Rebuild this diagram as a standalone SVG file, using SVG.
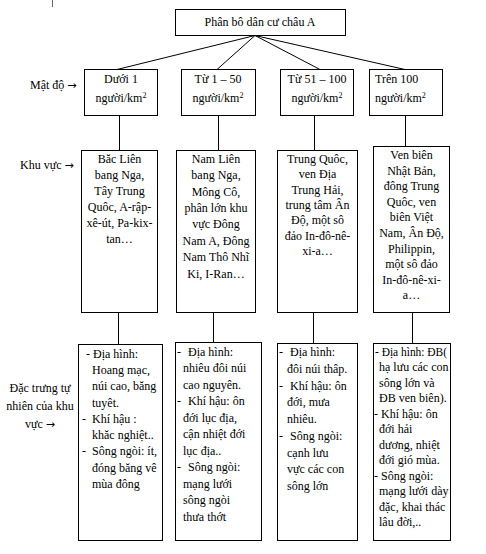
<svg xmlns="http://www.w3.org/2000/svg" width="486" height="554" viewBox="0 0 486 554">
<style>
text{font-family:"Liberation Serif","Times New Roman",serif;font-size:12px;fill:#000}
.c{text-anchor:middle}
.box{fill:#fff;stroke:#000;stroke-width:1}
.ln{stroke:#000;stroke-width:1;fill:none}
.sup{font-size:8px}
.ar{font-family:"DejaVu Sans",sans-serif;font-size:11px}
</style>
<rect width="486" height="554" fill="#fff"/>
<line x1="52.5" y1="0" x2="52.5" y2="7" stroke="#666" stroke-width="1"/>
<g id="connectors">
<line class="ln" x1="255" y1="35.5" x2="117" y2="69.5"/>
<line class="ln" x1="255" y1="35.5" x2="217" y2="69.5"/>
<line class="ln" x1="255" y1="35.5" x2="320" y2="69.5"/>
<line class="ln" x1="255" y1="35.5" x2="405" y2="69.5"/>
<line class="ln" x1="119.5" y1="115.5" x2="119.5" y2="150.5"/>
<line class="ln" x1="218.5" y1="115.5" x2="218.5" y2="150.5"/>
<line class="ln" x1="314.5" y1="115.5" x2="314.5" y2="150.5"/>
<line class="ln" x1="405.5" y1="115.5" x2="405.5" y2="146.5"/>
<line class="ln" x1="118.5" y1="312.5" x2="118.5" y2="344.5"/>
<line class="ln" x1="213.5" y1="312.5" x2="213.5" y2="342.5"/>
<line class="ln" x1="313.5" y1="312.5" x2="313.5" y2="343.5"/>
<line class="ln" x1="412.5" y1="312.5" x2="412.5" y2="343.5"/>
</g>
<g id="labels">
<text x="30" y="89">Mật độ <tspan class="ar">→</tspan></text>
<text x="20" y="169">Khu vực <tspan class="ar">→</tspan></text>
<text class="c" x="40" y="392">Đặc trưng tự</text>
<text class="c" x="40" y="410">nhiên của khu</text>
<text class="c" x="40" y="428">vực <tspan class="ar">→</tspan></text>
</g>
<g id="title">
<rect class="box" x="175.5" y="9.5" width="170" height="26"/>
<text class="c" x="260" y="26">Phân bô dân cư châu A</text>
</g>
<g id="d1">
<rect class="box" x="84.5" y="69.5" width="73" height="46"/>
<text class="c" x="121" y="83">Dưới 1</text>
<text class="c" x="121" y="102">người/km<tspan class="sup" dy="-4">2</tspan></text>
</g>
<g id="d2">
<rect class="box" x="181.5" y="69.5" width="74" height="46"/>
<text class="c" x="218" y="83">Từ 1 – 50</text>
<text class="c" x="218" y="102">người/km<tspan class="sup" dy="-4">2</tspan></text>
</g>
<g id="d3">
<rect class="box" x="280.5" y="69.5" width="73" height="46"/>
<text class="c" x="317" y="83">Từ 51 – 100</text>
<text class="c" x="317" y="102">người/km<tspan class="sup" dy="-4">2</tspan></text>
</g>
<g id="d4">
<rect class="box" x="369.5" y="69.5" width="73" height="46"/>
<text x="375" y="83">Trên 100</text>
<text x="375" y="102">người/km<tspan class="sup" dy="-4">2</tspan></text>
</g>
<g id="k1">
<rect class="box" x="81.5" y="150.5" width="76" height="162"/>
<text class="c" x="119.5" y="163">Băc Liên</text>
<text class="c" x="119.5" y="179">bang Nga,</text>
<text class="c" x="119.5" y="195">Tây Trung</text>
<text class="c" x="119.5" y="211">Quôc, A-rập-</text>
<text class="c" x="119.5" y="227">xê-út, Pa-kix-</text>
<text class="c" x="119.5" y="243">tan…</text>
</g>
<g id="k2">
<rect class="box" x="176.5" y="150.5" width="79" height="162"/>
<text class="c" x="216" y="163">Nam Liên</text>
<text class="c" x="216" y="179">bang Nga,</text>
<text class="c" x="216" y="196">Mông Cô,</text>
<text class="c" x="216" y="212">phân lớn khu</text>
<text class="c" x="216" y="228">vực Đông</text>
<text class="c" x="216" y="245">Nam A, Đông</text>
<text class="c" x="216" y="261">Nam Thô Nhĩ</text>
<text class="c" x="216" y="278">Ki, I-Ran…</text>
</g>
<g id="k3">
<rect class="box" x="277.5" y="150.5" width="80" height="162"/>
<text class="c" x="317.5" y="163">Trung Quôc,</text>
<text class="c" x="317.5" y="178">ven Địa</text>
<text class="c" x="317.5" y="194">Trung Hải,</text>
<text class="c" x="317.5" y="209">trung tâm Ân</text>
<text class="c" x="317.5" y="224">Độ, một sô</text>
<text class="c" x="317.5" y="240">đảo In-đô-nê-</text>
<text class="c" x="317.5" y="255">xi-a…</text>
</g>
<g id="k4">
<rect class="box" x="373.5" y="146.5" width="76" height="166"/>
<text class="c" x="411.5" y="159">Ven biên</text>
<text class="c" x="411.5" y="175">Nhật Bản,</text>
<text class="c" x="411.5" y="190">đông Trung</text>
<text class="c" x="411.5" y="206">Quôc, ven</text>
<text class="c" x="411.5" y="221">biên Việt</text>
<text class="c" x="411.5" y="237">Nam, Ân Độ,</text>
<text class="c" x="411.5" y="253">Philippin,</text>
<text class="c" x="411.5" y="268">một sô đảo</text>
<text class="c" x="411.5" y="284">In-đô-nê-xi-</text>
<text class="c" x="411.5" y="299">a…</text>
</g>
<g id="t1">
<rect class="box" x="78.5" y="344.5" width="84" height="196"/>
<text x="86" y="358">- Địa hình:</text>
<text x="92" y="374">Hoang mạc,</text>
<text x="92" y="390">núi cao, băng</text>
<text x="92" y="407">tuyêt.</text>
<text x="82" y="423">-</text><text x="92" y="423">Khí hậu :</text>
<text x="92" y="439">khăc nghiệt..</text>
<text x="82" y="455">-</text><text x="92" y="455">Sông ngòi: ít,</text>
<text x="92" y="472">đóng băng vê</text>
<text x="92" y="488">mùa đông</text>
</g>
<g id="t2">
<rect class="box" x="175.5" y="342.5" width="86" height="198"/>
<text x="177" y="356">-</text><text x="188" y="356">Địa hình:</text>
<text x="183" y="372">nhiêu đôi núi</text>
<text x="183" y="389">cao nguyên.</text>
<text x="177" y="405">-</text><text x="188" y="405">Khí hậu: ôn</text>
<text x="183" y="422">đới lục địa,</text>
<text x="183" y="438">cận nhiệt đới</text>
<text x="183" y="455">lục địa..</text>
<text x="177" y="471">-</text><text x="188" y="471">Sông ngòi:</text>
<text x="183" y="488">mạng lưới</text>
<text x="183" y="504">sông ngòi</text>
<text x="183" y="521">thưa thớt</text>
</g>
<g id="t3">
<rect class="box" x="277.5" y="343.5" width="80" height="197"/>
<text x="279" y="356">-</text><text x="290" y="356">Địa hình:</text>
<text x="287" y="373">đôi núi thâp.</text>
<text x="279" y="390">-</text><text x="290" y="390">Khí hậu: ôn</text>
<text x="287" y="406">đới, mưa</text>
<text x="287" y="423">nhiêu.</text>
<text x="279" y="440">-</text><text x="290" y="440">Sông ngòi:</text>
<text x="287" y="457">cạnh lưu</text>
<text x="287" y="473">vực các con</text>
<text x="287" y="490">sông lớn</text>
</g>
<g id="t4">
<rect class="box" x="373.5" y="343.5" width="77" height="197"/>
<text x="375" y="356" textLength="72" lengthAdjust="spacingAndGlyphs">- Địa hình: ĐB(</text>
<text x="379" y="371">hạ lưu các con</text>
<text x="379" y="387">sông lớn và</text>
<text x="379" y="402">ĐB ven biên).</text>
<text x="374" y="418">- Khí hậu: ôn</text>
<text x="379" y="433">đới hải</text>
<text x="379" y="449">dương, nhiệt</text>
<text x="379" y="464">đới gió mùa.</text>
<text x="374" y="480">- Sông ngòi:</text>
<text x="379" y="495">mạng lưới dày</text>
<text x="379" y="511">đặc, khai thác</text>
<text x="379" y="526">lâu đời,..</text>
</g>
</svg>
